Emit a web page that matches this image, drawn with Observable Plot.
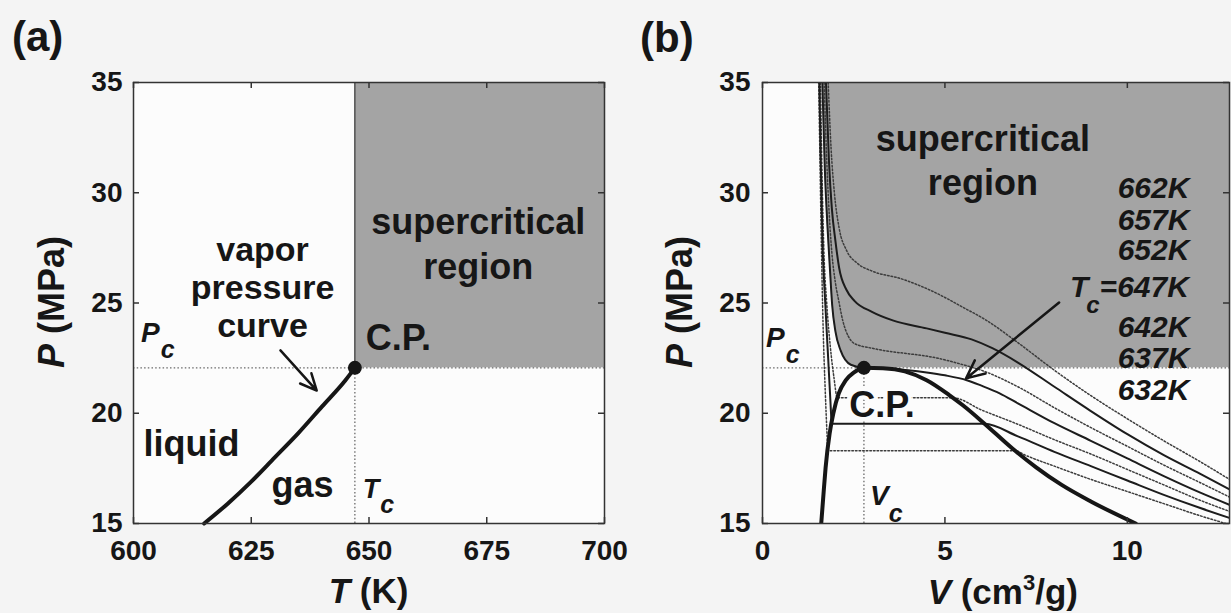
<!DOCTYPE html>
<html><head><meta charset="utf-8">
<script src="https://cdn.jsdelivr.net/npm/d3@7"></script>
<script src="https://cdn.jsdelivr.net/npm/@observablehq/plot@0.6"></script>
<style>
html,body{margin:0;padding:0;background:#f4f4f4;}
#wrap{position:relative;width:1231px;height:613px;overflow:hidden;}
.panel{position:absolute;top:0;}
</style></head><body>
<div id="wrap"><div id="pa" class="panel" style="left:0"></div><div id="pb" class="panel" style="left:620px"></div></div>
<script>
// ---------------- data ----------------
const Tc = 647, Pc = 22.06, Vc = 2.78;
const tDomain = [600, 700];
const pDomain = [15, 35];
const vDomain = [0, 12.8];
const tTicks = [600, 625, 650, 675, 700];
const pTicks = [15, 20, 25, 30, 35];
const vTicks = [0, 5, 10];

// (a) vapor pressure curve
const vaporT = [615, 620, 625, 630, 635, 640, 645, 647];
const vaporP = [15.0, 15.9, 16.9, 18.0, 19.1, 20.3, 21.5, 22.06];

// (b) isotherms (V in cm3/g, P in MPa)
const V632 = [1.54, 1.57, 1.61, 1.66, 1.72, 1.77, 1.79, 6.93, 7.2, 8.0, 9.0, 10.0, 11.0, 12.0, 12.8];
const P632 = [35, 32, 28, 24, 21, 19, 18.3, 18.3, 18.1, 17.6, 17.0, 16.45, 15.9, 15.35, 14.95];
const V637 = [1.56, 1.59, 1.64, 1.72, 1.80, 1.86, 1.90, 6.09, 7.0, 8.0, 9.0, 10.0, 11.0, 12.0, 12.8];
const P637 = [35, 32, 28, 25, 22.5, 20.6, 19.52, 19.52, 18.95, 18.25, 17.6, 16.95, 16.3, 15.7, 15.25];
const V642 = [1.59, 1.63, 1.68, 1.76, 1.86, 1.96, 2.05, 5.22, 6.0, 7.0, 8.0, 9.0, 10.0, 11.0, 12.0, 12.8];
const P642 = [35, 31, 27.5, 25, 23, 21.6, 20.7, 20.7, 20.15, 19.5, 18.8, 18.15, 17.45, 16.75, 16.05, 15.55];
const V647 = [1.64, 1.71, 1.78, 1.85, 1.91, 2.00, 2.14, 2.42, 2.78, 3.5, 4.0, 4.5, 5.0, 5.6, 6.0, 6.5, 7.0, 8.0, 9.0, 10.0, 11.0, 12.0, 12.8];
const P647 = [35, 31, 28.5, 26.5, 24.9, 23.7, 22.85, 22.2, 22.06, 22.02, 21.95, 21.85, 21.72, 21.5, 21.25, 20.9, 20.45, 19.55, 18.75, 17.95, 17.15, 16.4, 15.85];
const V652 = [1.69, 1.76, 1.83, 1.90, 2.00, 2.09, 2.20, 2.35, 2.52, 3.0, 3.5, 4.0, 4.67, 5.5, 6.0, 7.0, 8.0, 9.0, 10.0, 11.0, 12.0, 12.8];
const P652 = [35, 31.5, 29, 27.3, 25.9, 25.1, 24.2, 23.5, 23.16, 22.95, 22.8, 22.7, 22.54, 22.2, 21.95, 21.2, 20.25, 19.35, 18.5, 17.65, 16.85, 16.2];
const V657 = [1.74, 1.82, 1.90, 2.00, 2.10, 2.30, 2.52, 3.0, 3.59, 4.5, 5.0, 5.73, 6.3, 7.0, 8.0, 9.0, 10.0, 11.0, 12.0, 12.8];
const P657 = [35, 31.5, 29.3, 27.8, 26.6, 25.6, 25.1, 24.6, 24.2, 23.85, 23.65, 23.35, 22.95, 22.3, 21.2, 20.1, 19.05, 18.1, 17.25, 16.55];
const V662 = [1.80, 1.88, 1.97, 2.10, 2.30, 2.60, 3.0, 3.8, 4.7, 5.5, 6.15, 7.0, 8.0, 9.0, 10.0, 11.0, 12.0, 12.8];
const P662 = [35, 32, 30, 28.4, 27.4, 26.8, 26.45, 26.1, 25.5, 24.8, 24.2, 23.2, 21.95, 20.8, 19.75, 18.75, 17.8, 17.0];

// (b) coexistence dome
const domeV = [1.61, 1.67, 1.73, 1.84, 1.94, 2.09, 2.28, 2.51, 2.78, 3.3, 3.9, 4.5, 5.1, 5.5, 6.07, 6.85, 7.5, 8.2, 9.0, 10.23];
const domeP = [15, 16.3, 17.54, 19.08, 19.99, 20.9, 21.49, 21.85, 22.06, 22.04, 21.9, 21.5, 20.85, 20.35, 19.55, 18.4, 17.55, 16.75, 16.0, 15.0];

// annotations
const annoA_mid = [
  {text: "vapor\npressure\ncurve", x: 627.4, y: 23.44, lh: 1.13, fs: 34},
  {text: "supercritical\nregion", x: 673.2, y: 26.11, lh: 1.25, fs: 36}
];
const annoA_start = [
  {text: "C.P.", x: 649.3, y: 22.89},
  {text: "liquid", x: 602.1, y: 18.04},
  {text: "gas", x: 629.3, y: 16.18}
];
const arrowA = [{x1: 631.2, y1: 22.85, x2: 638.9, y2: 21.03}];
const annoB_mid = [{text: "supercritical\nregion", x: 6.04, y: 29.92, lh: 1.22, fs: 36}];
const annoB_cp = [{text: "C.P.", x: 2.38, y: 19.85}];
const isoLabelX = 11.7;
const isoLabels = [
  {text: "662K", y: 29.74}, {text: "657K", y: 28.33}, {text: "652K", y: 26.93},
  {text: "642K", y: 23.44}, {text: "637K", y: 22.03}, {text: "632K", y: 20.58}
];
const critLabelY = 25.25;
const arrowB = [{x1: 8.13, y1: 25.02, x2: 5.58, y2: 21.58}];

// ---------------- drawing ----------------
const font = '"Liberation Sans", Arial, Helvetica, sans-serif';
const ink = "#161616";
const shade = "#a4a4a4";
const inside = "#fcfcfc";
const frameH = 441, frameWA = 471, frameWB = 467;

const styleBase = {background: "transparent", fontFamily: font, fontSize: "28px", fontWeight: "bold", color: ink, overflow: "visible"};
const dotted = {stroke: "#6a6a6a", strokeWidth: 1.3, strokeDasharray: "1.5,2.2"};

function innerTicks(xt, yt, fw) {
  const s = {stroke: "#333", strokeWidth: 1.5};
  return [
    Plot.ruleX(xt, {...s, insetTop: frameH - 6}),
    Plot.ruleX(xt, {...s, insetBottom: frameH - 6}),
    Plot.ruleY(yt, {...s, insetRight: fw - 6}),
    Plot.ruleY(yt, {...s, insetLeft: fw - 6})
  ];
}
function blockText(rows, opts) {
  return rows.map(r => Plot.text([r], {x: "x", y: "y", text: "text", lineAnchor: "bottom", lineHeight: r.lh || 1, fontSize: r.fs || 36, fontWeight: "bold", fill: ink, ...opts}));
}

const vapor = vaporT.map((t, i) => ({T: t, P: vaporP[i]}));

const plotA = Plot.plot({
  width: 620, height: 613,
  marginLeft: 133, marginRight: 16, marginTop: 82, marginBottom: 90,
  style: styleBase,
  x: {domain: tDomain, ticks: tTicks, tickSize: 0, tickPadding: 17, label: null, tickFormat: d => String(d)},
  y: {domain: pDomain, ticks: pTicks, tickSize: 0, tickPadding: 11, label: null, tickFormat: d => String(d)},
  marks: [
    Plot.frame({fill: inside, stroke: "none"}),
    Plot.rect([0], {x1: Tc, x2: tDomain[1], y1: Pc, y2: pDomain[1], fill: shade}),
    Plot.ruleY([Pc], dotted),
    Plot.ruleX([Tc], {...dotted, y1: pDomain[0], y2: Pc}),
    Plot.ruleX([Tc], {y1: Pc, y2: pDomain[1], stroke: "#3a3a3a", strokeWidth: 1.2}),
    Plot.line(vapor, {x: "T", y: "P", stroke: ink, strokeWidth: 4, curve: "monotone-x"}),
    Plot.dot([{T: Tc, P: Pc}], {x: "T", y: "P", r: 7, fill: ink}),
    Plot.arrow(arrowA, {x1: "x1", y1: "y1", x2: "x2", y2: "y2", stroke: ink, strokeWidth: 2.5, headLength: 12, headAngle: 50}),
    ...blockText(annoA_mid, {textAnchor: "middle"}),
    Plot.text(annoA_start, {x: "x", y: "y", text: "text", textAnchor: "start", lineAnchor: "bottom", fontSize: 36, fontWeight: "bold", fill: ink}),
    ...innerTicks(tTicks, pTicks, frameWA),
    Plot.frame({stroke: "#333", strokeWidth: 1.5})
  ]
});

const isoList = [
  {T: 632, V: V632, P: P632, dotted: true},
  {T: 637, V: V637, P: P637, dotted: false},
  {T: 642, V: V642, P: P642, dotted: true},
  {T: 647, V: V647, P: P647, dotted: false},
  {T: 652, V: V652, P: P652, dotted: true},
  {T: 657, V: V657, P: P657, dotted: false},
  {T: 662, V: V662, P: P662, dotted: true}
];
const isoRows = isoList.flatMap(s => s.V.map((v, i) => ({T: s.T, V: v, P: s.P[i], dotted: s.dotted})));
const critRows = V647.map((v, i) => ({V: v, P: P647[i]}));
const dome = domeV.map((v, i) => ({V: v, P: domeP[i]}));

const plotB = Plot.plot({
  width: 611, height: 613,
  marginLeft: 142, marginRight: 2, marginTop: 82, marginBottom: 90,
  style: styleBase,
  x: {domain: vDomain, ticks: vTicks, tickSize: 0, tickPadding: 17, label: null, tickFormat: d => String(d)},
  y: {domain: pDomain, ticks: pTicks, tickSize: 0, tickPadding: 12, label: null, tickFormat: d => String(d)},
  marks: [
    Plot.frame({fill: inside, stroke: "none"}),
    Plot.areaY(critRows, {x: "V", y1: d => Math.max(Pc, d.P), y2: pDomain[1], fill: shade, curve: "monotone-x", clip: true}),
    Plot.ruleY([Pc], dotted),
    Plot.ruleX([Vc], {...dotted, y1: pDomain[0], y2: Pc}),
    Plot.line(isoRows.filter(d => d.dotted), {x: "V", y: "P", z: "T", stroke: "#3c3c3c", strokeWidth: 1.5, strokeDasharray: "1.6,2", curve: "monotone-x", clip: true}),
    Plot.line(isoRows.filter(d => !d.dotted), {x: "V", y: "P", z: "T", stroke: "#1c1c1c", strokeWidth: 2, curve: "monotone-x", clip: true}),
    Plot.line(dome, {x: "V", y: "P", stroke: ink, strokeWidth: 4, curve: "monotone-x", clip: true}),
    Plot.dot([{V: Vc, P: Pc}], {x: "V", y: "P", r: 7, fill: ink}),
    Plot.arrow(arrowB, {x1: "x1", y1: "y1", x2: "x2", y2: "y2", stroke: ink, strokeWidth: 2.5, headLength: 12, headAngle: 50}),
    ...blockText(annoB_mid, {textAnchor: "middle"}),
    Plot.text(annoB_cp, {x: "x", y: "y", text: "text", textAnchor: "start", lineAnchor: "bottom", fontSize: 36, fontWeight: "bold", fill: ink, stroke: inside, strokeWidth: 8, paintOrder: "stroke"}),
    Plot.text(isoLabels, {x: () => isoLabelX, y: "y", text: "text", textAnchor: "end", lineAnchor: "bottom", fontSize: 30, fontWeight: "bold", fontStyle: "italic", fill: ink}),
    ...innerTicks(vTicks, pTicks, frameWB),
    Plot.frame({stroke: "#333", strokeWidth: 1.5})
  ]
});

document.getElementById("pa").appendChild(plotA);
document.getElementById("pb").appendChild(plotB);

function rich(svg, o) {
  const t = d3.select(svg).append("text")
    .attr("text-anchor", o.anchor || "start")
    .attr("font-size", o.size).attr("font-weight", "bold")
    .attr("font-family", font).attr("fill", ink);
  if (o.rotate) t.attr("transform", `translate(${o.x},${o.y}) rotate(${o.rotate})`);
  else t.attr("x", o.x).attr("y", o.y);
  for (const p of o.parts) {
    const s = t.append("tspan").text(p.text);
    if (p.italic) s.attr("font-style", "italic");
    if (p.size) s.attr("font-size", p.size);
    if (p.dy) s.attr("dy", p.dy);
    if (p.dx) s.attr("dx", p.dx);
  }
}

const ax = plotA.scale("x"), ay = plotA.scale("y");
const bx = plotB.scale("x"), by = plotB.scale("y");

// panel (a) labels
rich(plotA, {x: 12, y: 51, size: 42, parts: [{text: "(a)"}]});
rich(plotA, {x: ax.apply(650), y: 603, size: 35, anchor: "middle", parts: [{text: "T", italic: true}, {text: " (K)"}]});
rich(plotA, {x: 64, y: 302, size: 36, anchor: "middle", rotate: -90, parts: [{text: "P", italic: true}, {text: " (MPa)"}]});
rich(plotA, {x: ax.apply(601.7), y: ay.apply(23.21), size: 28, parts: [{text: "P", italic: true}, {text: "c", italic: true, size: 25, dy: 16, dx: 1}]});
rich(plotA, {x: ax.apply(648.8), y: ay.apply(16.13), size: 27, parts: [{text: "T", italic: true}, {text: "c", italic: true, size: 25, dy: 15, dx: 1}]});

// panel (b) labels
rich(plotB, {x: 20, y: 52, size: 42, parts: [{text: "(b)"}]});
rich(plotB, {x: bx.apply(6.6), y: 604, size: 35, anchor: "middle", parts: [{text: "V", italic: true}, {text: " (cm"}, {text: "3", size: 22, dy: -14}, {text: "/g)", dy: 14}]});
rich(plotB, {x: 72, y: 302, size: 36, anchor: "middle", rotate: -90, parts: [{text: "P", italic: true}, {text: " (MPa)"}]});
rich(plotB, {x: bx.apply(0.11), y: by.apply(22.98), size: 28, parts: [{text: "P", italic: true}, {text: "c", italic: true, size: 25, dy: 16, dx: 1}]});
rich(plotB, {x: bx.apply(2.96), y: by.apply(15.82), size: 28, parts: [{text: "V", italic: true}, {text: "c", italic: true, size: 25, dy: 17}]});
rich(plotB, {x: bx.apply(isoLabelX), y: by.apply(critLabelY), size: 30, anchor: "end", parts: [{text: "T", italic: true}, {text: "c", italic: true, size: 24, dy: 16, dx: -2}, {text: "=647K", italic: true, dy: -16}]});
</script>
</body></html>
